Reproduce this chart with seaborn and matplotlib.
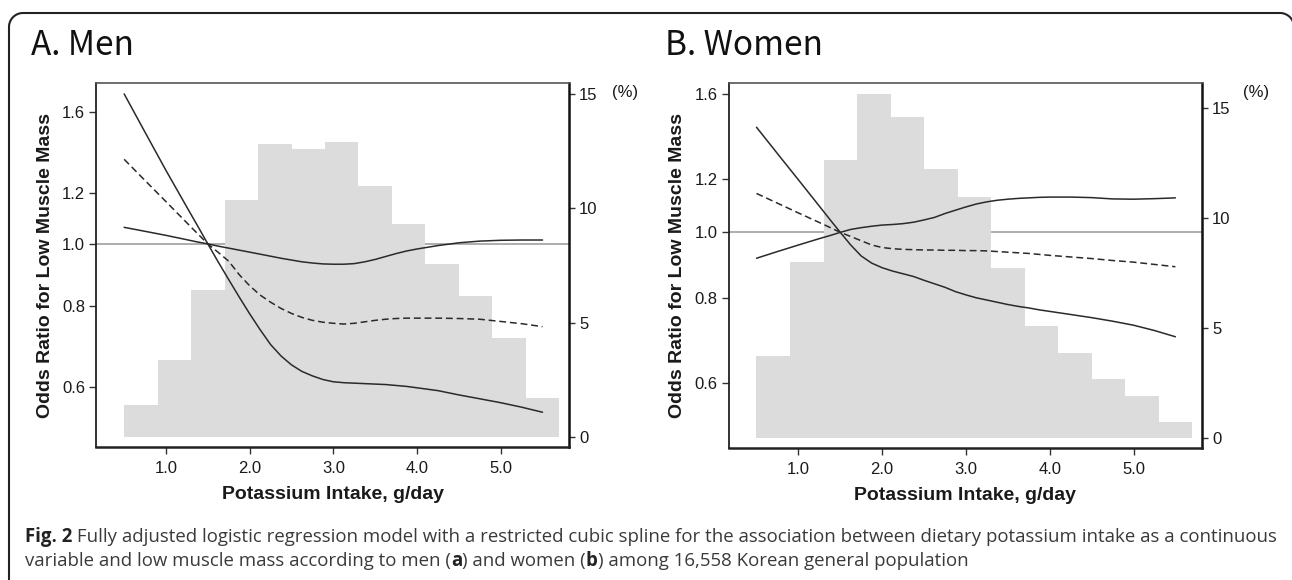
import matplotlib
matplotlib.use('Agg')
import matplotlib.pyplot as plt
from matplotlib.patches import PathPatch
from matplotlib.path import Path
from matplotlib.transforms import IdentityTransform
from matplotlib.ticker import FixedLocator, FixedFormatter, NullLocator
import numpy as np
import seaborn as sns
import pandas as pd

# ---------------- data ----------------
intake = [0.5, 0.75, 1.0, 1.25, 1.375, 1.5, 1.625, 1.75, 1.875, 2.0, 2.125, 2.25,
          2.375, 2.5, 2.625, 2.75, 2.875, 3.0, 3.125, 3.25, 3.375, 3.5, 3.625,
          3.75, 3.875, 4.0, 4.25, 4.5, 4.75, 5.0, 5.25, 5.5]

men_or = [1.353, 1.254, 1.163, 1.078, 1.038, 1.0, 0.970, 0.940, 0.896, 0.861, 0.833,
          0.812, 0.794, 0.780, 0.769, 0.761, 0.756, 0.753, 0.751, 0.753, 0.757, 0.761,
          0.764, 0.766, 0.767, 0.767, 0.767, 0.766, 0.764, 0.758, 0.752, 0.744]
men_ci_a = [1.709, 1.49, 1.30, 1.14, 1.068, 1.0, 0.937, 0.880, 0.827, 0.779, 0.736,
            0.698, 0.670, 0.649, 0.634, 0.624, 0.616, 0.611, 0.609, 0.608, 0.607,
            0.606, 0.605, 0.603, 0.601, 0.598, 0.592, 0.583, 0.575, 0.567, 0.558, 0.548]
men_ci_b = [1.061, 1.046, 1.031, 1.015, 1.007, 1.0, 0.992, 0.985, 0.978, 0.971, 0.964,
            0.957, 0.950, 0.944, 0.938, 0.934, 0.931, 0.930, 0.930, 0.932, 0.938,
            0.946, 0.956, 0.966, 0.975, 0.982, 0.994, 1.004, 1.010, 1.013, 1.014, 1.014]

women_or = [1.141, 1.104, 1.068, 1.034, 1.017, 1.0, 0.986, 0.972, 0.958, 0.950, 0.946,
            0.944, 0.943, 0.942, 0.942, 0.941, 0.941, 0.940, 0.940, 0.939, 0.937,
            0.935, 0.933, 0.931, 0.928, 0.925, 0.920, 0.915, 0.909, 0.904, 0.897, 0.890]
women_ci_a = [1.428, 1.306, 1.195, 1.093, 1.045, 1.0, 0.958, 0.923, 0.901, 0.887,
              0.877, 0.869, 0.861, 0.850, 0.840, 0.830, 0.818, 0.809, 0.801, 0.795,
              0.789, 0.783, 0.778, 0.774, 0.769, 0.765, 0.757, 0.749, 0.740, 0.730,
              0.717, 0.702]
women_ci_b = [0.916, 0.937, 0.958, 0.979, 0.989, 1.0, 1.010, 1.016, 1.021, 1.025,
              1.027, 1.030, 1.035, 1.043, 1.052, 1.066, 1.078, 1.090, 1.101, 1.109,
              1.115, 1.119, 1.122, 1.124, 1.126, 1.127, 1.127, 1.125, 1.120, 1.119,
              1.121, 1.124]

bin_edges = [0.5, 0.9, 1.3, 1.7, 2.1, 2.5, 2.9, 3.3, 3.7, 4.1, 4.5, 4.9, 5.3, 5.7]
bin_mids = [0.7, 1.1, 1.5, 1.9, 2.3, 2.7, 3.1, 3.5, 3.9, 4.3, 4.7, 5.1, 5.5]
men_pct = [1.40, 3.38, 6.43, 10.36, 12.81, 12.59, 12.91, 10.97, 9.31, 7.57, 6.17, 4.32, 1.70]
women_pct = [3.74, 8.0, 12.65, 15.65, 14.62, 12.23, 10.98, 7.73, 5.12, 3.89, 2.71, 1.92, 0.75]

x_ticks = [1.0, 2.0, 3.0, 4.0, 5.0]
x_labels = ['1.0', '2.0', '3.0', '4.0', '5.0']
or_ticks = [0.6, 0.8, 1.0, 1.2, 1.6]
or_labels = ['0.6', '0.8', '1.0', '1.2', '1.6']
pct_ticks = [0, 5, 10, 15]
pct_labels = ['0', '5', '10', '15']

titles = ['A. Men', 'B. Women']
x_title = 'Potassium Intake, g/day'
y_title = 'Odds Ratio for Low Muscle Mass'
caption_1 = [('Fig. 2', 'bold'),
             (' Fully adjusted logistic regression model with a restricted cubic spline for the '
              'association between dietary potassium intake as a continuous', 'normal')]
caption_2 = [('variable and low muscle mass according to men (', 'normal'), ('a', 'bold'),
             (') and women (', 'normal'), ('b', 'bold'),
             (') among 16,558 Korean general population', 'normal')]

# ---------------- style ----------------
sns.set_theme(style='white')
plt.rcParams['font.family'] = ['Liberation Sans', 'DejaVu Sans']
plt.rcParams['axes.unicode_minus'] = False

W, H = 1292, 580
fig = plt.figure(figsize=(W / 100, H / 100), dpi=100)
fig.patch.set_facecolor('white')

LINE = '#2a2a2a'
BAR = '#dcdcdc'
TXT = '#1a1a1a'


def rect(x0, y_top, x1, y_bot):
    return [x0 / W, (H - y_bot) / H, (x1 - x0) / W, (y_bot - y_top) / H]


def panel(r, pct, est, ci_a, ci_b, ylim, ylim2, title, title_x, pct_xy):
    ax = fig.add_axes(r)
    ax2 = ax.twinx()
    ax.set_zorder(ax2.get_zorder() + 1)
    ax.patch.set_visible(False)

    # reference line below histogram
    ax2.plot([0, 1], [1.0, 1.0], transform=ax.get_yaxis_transform(),
             color='#a0a0a0', lw=1.2, zorder=0.5)
    hist_df = pd.DataFrame({'mid': bin_mids, 'pct': pct})
    sns.histplot(data=hist_df, x='mid', weights='pct', bins=bin_edges, ax=ax2,
                 color=BAR, alpha=1, linewidth=0, edgecolor='none', zorder=1)

    df = pd.DataFrame({'x': intake, 'est': est, 'a': ci_a, 'b': ci_b})
    sns.lineplot(data=df, x='x', y='a', ax=ax, color=LINE, lw=1.1, estimator=None)
    sns.lineplot(data=df, x='x', y='b', ax=ax, color=LINE, lw=1.1, estimator=None)
    sns.lineplot(data=df, x='x', y='est', ax=ax, color=LINE, lw=1.1, estimator=None,
                 linestyle=(0, (4.5, 2.5)))

    ax.set_yscale('log')
    ax.set_xlim(0.167, 5.82)
    ax.set_ylim(*ylim)
    ax2.set_ylim(*ylim2)
    ax.set_xticks(x_ticks)
    ax.set_xticklabels(x_labels)
    ax.yaxis.set_major_locator(FixedLocator(or_ticks))
    ax.yaxis.set_major_formatter(FixedFormatter(or_labels))
    ax.yaxis.set_minor_locator(NullLocator())
    ax2.set_yticks(pct_ticks)
    ax2.set_yticklabels(pct_labels)

    ax.set_xlabel(x_title, fontsize=14, fontweight='bold', color=TXT, labelpad=7)
    ax.set_ylabel(y_title, fontsize=14, fontweight='bold', color=TXT, labelpad=6)
    ax2.set_ylabel('')

    ax.tick_params(axis='both', which='major', direction='out', length=5, width=1,
                   color='#333333', labelsize=12, labelcolor=TXT, pad=3,
                   left=True, bottom=True, right=False, top=False)
    ax.tick_params(axis='x', pad=5)
    ax2.tick_params(axis='y', direction='out', length=4, width=1, color='#333333',
                    labelsize=12, labelcolor=TXT, pad=3, right=True, left=False)

    for s in ['left', 'top', 'bottom']:
        ax.spines[s].set_visible(True)
        ax.spines[s].set_color('#222222')
    ax.spines['left'].set_linewidth(1.3)
    ax.spines['top'].set_linewidth(1.2)
    ax.spines['top'].set_color('#555555')
    ax.spines['bottom'].set_linewidth(1.8)
    ax.spines['right'].set_visible(False)
    for s in ['left', 'top', 'bottom']:
        ax2.spines[s].set_visible(False)
    ax2.spines['right'].set_visible(True)
    ax2.spines['right'].set_color('#111111')
    ax2.spines['right'].set_linewidth(1.8)
    ax2.grid(False)
    ax.grid(False)

    fig.text(title_x / W, 1 - 55 / H, title, fontsize=24, color='#111111',
             family=['Noto Sans CJK KR', 'DejaVu Sans'], va='baseline', ha='left')
    fig.text(pct_xy[0] / W, 1 - pct_xy[1] / H, '(%)', fontsize=12, color=TXT,
             va='center', ha='left')
    return ax, ax2


panel(rect(96.3, 83, 569.3, 447), men_pct, men_or, men_ci_a, men_ci_b,
      (0.484, 1.777), (-0.42, 15.47), titles[0], 31, (612, 93))
panel(rect(728.6, 83, 1202.2, 448.3), women_pct, women_or, women_ci_a, women_ci_b,
      (0.481, 1.659), (-0.45, 16.15), titles[1], 665, (1243, 92))

# ---------------- rounded frame (display pixels, origin bottom-left) ----------------
R = 14
TOP = H - 13
LEFT = 9
RIGHT_C = 1280
t1 = np.linspace(np.pi, np.pi / 2, 20)
t2 = np.linspace(np.pi / 2, 0, 20)
verts = [(LEFT, -10)]
verts += [(LEFT + R + R * np.cos(t), TOP - R + R * np.sin(t)) for t in t1]
verts += [(RIGHT_C + R * np.cos(t), TOP - R + R * np.sin(t)) for t in t2]
verts += [(RIGHT_C + R, -10)]
frame = PathPatch(Path(verts), transform=IdentityTransform(), fill=False, lw=1.5,
                  ec='#222222')
fig.patches.append(frame)

# ---------------- caption ----------------
renderer = fig.canvas.get_renderer()
CAP_FONT = ['Open Sans', 'DejaVu Sans']
target_w = 1274 - 25


def draw_line(segments, x0, y_base, size, measure_only=False):
    x = x0
    arts = []
    for txt, wt in segments:
        t = fig.text(x / W, 1 - y_base / H, txt, fontsize=size, fontweight=wt,
                     family=CAP_FONT, color='#222222' if wt == 'bold' else '#3a3a3a',
                     va='baseline', ha='left')
        bb = t.get_window_extent(renderer)
        x += bb.width
        arts.append(t)
    if measure_only:
        for a in arts:
            a.remove()
    return x - x0


w12 = draw_line(caption_1, 25, 542, 12, measure_only=True)
cap_size = 12 * target_w / w12
draw_line(caption_1, 25, 542, cap_size)
draw_line(caption_2, 25, 566, cap_size)

fig.savefig('out.png', dpi=100, facecolor='white')
